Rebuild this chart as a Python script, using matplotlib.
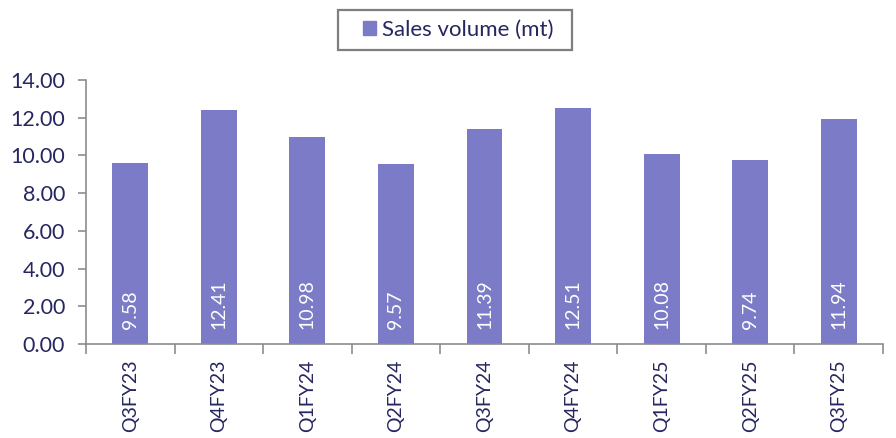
import matplotlib
matplotlib.use("Agg")
import matplotlib.pyplot as plt
from matplotlib.patches import Patch, Rectangle

categories = ["Q3FY23", "Q4FY23", "Q1FY24", "Q2FY24", "Q3FY24", "Q4FY24", "Q1FY25", "Q2FY25", "Q3FY25"]
sales_volume = [9.58, 12.41, 10.98, 9.57, 11.39, 12.51, 10.08, 9.74, 11.94]
y_ticks = [0, 2, 4, 6, 8, 10, 12, 14]
series_name = "Sales volume (mt)"

bar_color = "#7b7bc8"
text_color = "#262660"
axis_color = "#8c8c8c"

plt.rcParams['font.family'] = ['Lato', 'DejaVu Sans']

W, H = 896, 438
fig = plt.figure(figsize=(W / 100, H / 100), dpi=100)
ax = fig.add_axes([86 / W, 1 - 344 / H, (883 - 86) / W, (344 - 80) / H])

x = list(range(len(categories)))
bars = ax.bar(x, sales_volume, width=0.405, color=bar_color, zorder=2)

ax.set_xlim(-0.5, len(categories) - 0.5)
ax.set_ylim(0, 14)
ax.set_yticks(y_ticks)
ax.set_yticklabels([f"{v:.2f}" for v in y_ticks], fontsize=15.5, color=text_color)

ax.set_xticks(x)
ax.set_xticklabels(categories, rotation=90, fontsize=14, color=text_color)
ax.tick_params(axis='x', which='major', length=0, pad=11)
ax.set_xticks([i - 0.5 for i in range(len(categories) + 1)], minor=True)
ax.tick_params(axis='x', which='minor', length=7, width=1.2, color=axis_color, direction='out')
ax.tick_params(axis='y', length=6, width=1.2, color=axis_color, direction='out', pad=9)

for s in ['top', 'right']:
    ax.spines[s].set_visible(False)
for s in ['left', 'bottom']:
    ax.spines[s].set_color(axis_color)
    ax.spines[s].set_linewidth(1.2)

for xi, v in zip(x, sales_volume):
    ax.annotate(f"{v:.2f}", xy=(xi, 0), xytext=(0, 15), textcoords='offset pixels',
                rotation=90, ha='center', va='bottom', color='white', fontsize=14)

leg = fig.legend(handles=[Patch(color=bar_color, label=series_name)],
                 loc='center', bbox_to_anchor=(458 / W, 1 - 30 / H), frameon=False,
                 fontsize=16, handlelength=0.6, handleheight=0.6,
                 handletextpad=0.25, borderpad=0.0, borderaxespad=0,
                 labelcolor=text_color)
fig.add_artist(Rectangle((338 / W, 1 - 50 / H), (572 - 338) / W, 40 / H,
                         transform=fig.transFigure, fill=False,
                         edgecolor='#7f7f7f', linewidth=1.6))

fig.savefig("out.png", dpi=100)
